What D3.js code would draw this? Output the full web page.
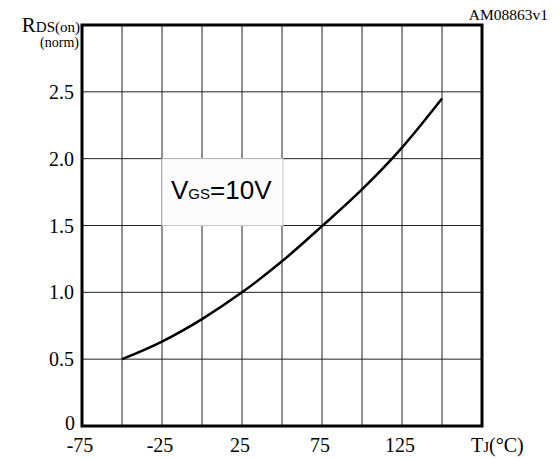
<!DOCTYPE html>
<html>
<head>
<meta charset="utf-8">
<script src="https://cdn.jsdelivr.net/npm/d3@7"></script>
<style>
body { margin: 0; background: #fff; }
text { font-family: "Liberation Serif", "Times New Roman", serif; fill: #000; }
.vgs text { font-family: "Liberation Sans", Arial, sans-serif; }
</style>
</head>
<body>
<script>
// junction temperature (degC) and normalized RDS(on)
var tempC = [-50, -25, 0, 25, 50, 75, 100, 125, 150];
var rdsNorm = [0.5, 0.632, 0.80, 1.0, 1.232, 1.495, 1.77, 2.083, 2.45];
var xTicks = [-75, -25, 25, 75, 125];
var xGrid = [-50, -25, 0, 25, 50, 75, 100, 125, 150];
var yTicks = [0, 0.5, 1.0, 1.5, 2.0, 2.5];

var width = 559;
var height = 459;
// note: "top" is reserved on window, so use plot* names
var plotLeft = 82, plotRight = 482, plotTop = 25, plotBottom = 426;

var svg = d3.select("body").append("svg")
  .attr("width", width)
  .attr("height", height);

var x = d3.scaleLinear().domain([-75, 175]).range([plotLeft, plotRight]);
var y = d3.scaleLinear().domain([0, 3]).range([plotBottom, plotTop]);

// grid
svg.append("g")
  .selectAll("line")
  .data(xGrid)
  .enter().append("line")
  .attr("x1", function(d) { return x(d); })
  .attr("x2", function(d) { return x(d); })
  .attr("y1", plotTop)
  .attr("y2", plotBottom)
  .attr("stroke", "#222")
  .attr("stroke-width", 1);

svg.append("g")
  .selectAll("line")
  .data(yTicks.slice(1))
  .enter().append("line")
  .attr("x1", plotLeft)
  .attr("x2", plotRight)
  .attr("y1", function(d) { return y(d); })
  .attr("y2", function(d) { return y(d); })
  .attr("stroke", "#222")
  .attr("stroke-width", 1);

// label box over the grid
var vgs = svg.append("g").attr("class", "vgs");
vgs.append("rect")
  .attr("x", x(-25))
  .attr("y", y(2.0))
  .attr("width", x(50) - x(-25) + 1)
  .attr("height", y(1.5) - y(2.0))
  .attr("fill", "#fcfcfc")
  .attr("stroke", "#c8c8c8")
  .attr("stroke-width", 1);
var vt = vgs.append("text")
  .attr("x", 171)
  .attr("y", 199)
  .style("font-size", "26px");
vt.append("tspan").text("V");
vt.append("tspan").style("font-size", "15px").text("GS");
vt.append("tspan").text("=10V");

// frame
svg.append("rect")
  .attr("x", plotLeft)
  .attr("y", plotTop)
  .attr("width", plotRight - plotLeft)
  .attr("height", plotBottom - plotTop)
  .attr("fill", "none")
  .attr("stroke", "#000")
  .attr("stroke-width", 3);

// curve
var line = d3.line()
  .x(function(d, i) { return x(tempC[i]); })
  .y(function(d) { return y(d); })
  .curve(d3.curveMonotoneX);

svg.append("path")
  .datum(rdsNorm)
  .attr("d", line)
  .attr("fill", "none")
  .attr("stroke", "#000")
  .attr("stroke-width", 2.5);

// tick labels
svg.append("g")
  .selectAll("text")
  .data(yTicks)
  .enter().append("text")
  .attr("x", function(d) { return d === 0 ? plotLeft - 7 : plotLeft - 8; })
  .attr("y", function(d) { return y(d) + (d === 0 ? 4 : 7); })
  .attr("text-anchor", "end")
  .style("font-size", "20px")
  .text(function(d) { return d === 0 ? "0" : d.toFixed(1); });

svg.append("g")
  .selectAll("text")
  .data(xTicks)
  .enter().append("text")
  .attr("x", function(d) { return x(d) - 2; })
  .attr("y", 452)
  .attr("text-anchor", "middle")
  .style("font-size", "20px")
  .text(function(d) { return d; });

// axis titles
var tj = svg.append("text")
  .attr("x", 471)
  .attr("y", 452)
  .style("font-size", "20px");
tj.append("tspan").text("T");
tj.append("tspan").style("font-size", "15px").text("J");
tj.append("tspan").text("(°C)");

var rds = svg.append("text")
  .attr("x", 80)
  .attr("y", 32)
  .attr("text-anchor", "end")
  .style("font-size", "21px");
rds.append("tspan").text("R");
rds.append("tspan").style("font-size", "15px").text("DS(on)");

svg.append("text")
  .attr("x", 79)
  .attr("y", 47)
  .attr("text-anchor", "end")
  .style("font-size", "14px")
  .text("(norm)");

svg.append("text")
  .attr("x", 548)
  .attr("y", 20)
  .attr("text-anchor", "end")
  .style("font-size", "15.5px")
  .text("AM08863v1");
</script>
</body>
</html>
